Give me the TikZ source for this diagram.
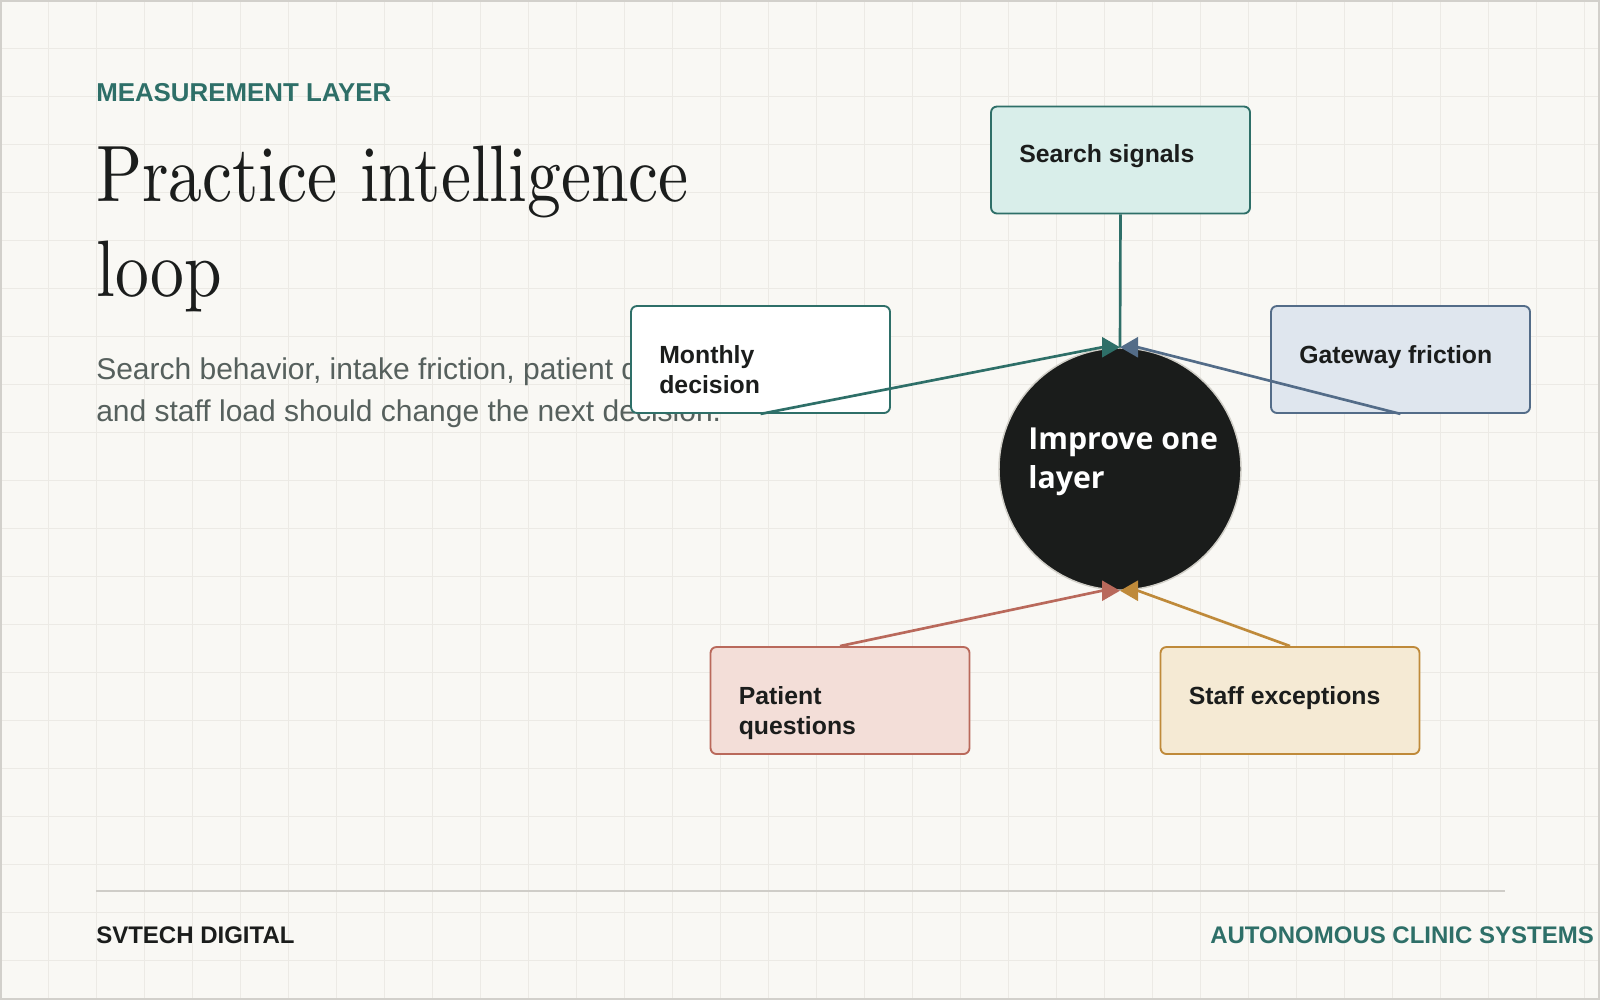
\documentclass[tikz,border=0pt]{standalone}
\usepackage{fontspec}
\setmainfont{Liberation Sans}
\newfontfamily\titlefont{lmroman10-regular.otf}[FakeStretch=0.845]
\newfontfamily\corefont{Open Sans}
\usetikzlibrary{arrows.meta,positioning,calc}

\definecolor{paper}{HTML}{F9F8F4}
\definecolor{gridcol}{HTML}{ECEAE5}
\definecolor{frame}{HTML}{D2D0CB}
\definecolor{ink}{HTML}{1B1D1C}
\definecolor{muted}{HTML}{56605D}
\definecolor{teal}{HTML}{2E6F68}
\definecolor{tealfill}{HTML}{D9EEEA}
\definecolor{slate}{HTML}{536C88}
\definecolor{slatefill}{HTML}{DFE6EE}
\definecolor{rust}{HTML}{B9695B}
\definecolor{rustfill}{HTML}{F3DED8}
\definecolor{ochre}{HTML}{BF8A3A}
\definecolor{ochrefill}{HTML}{F5EAD4}
\definecolor{rulecol}{HTML}{CFCDC8}
\definecolor{corefill}{HTML}{1A1C1B}
\definecolor{coreline}{HTML}{D0CEC7}

\begin{document}
\begin{tikzpicture}[
x=0.75pt,
y=-0.75pt,
gridline/.style={
  draw=gridcol,
  line width=0.75pt
  },
plaintext/.style={
  anchor=base west,
  inner sep=0pt,
  align=left
  },
box/.style={
  draw,
  rounded corners=4.5pt,
  line width=1.4pt,
  minimum width=194.25pt,
  minimum height=80.25pt,
  inner sep=0pt
  },
boxtext/.style={
  plaintext,
  text=ink,
  font=\fontsize{18.6}{22.5}\selectfont\bfseries
  },
link/.style={
  line width=2pt,
  -{Triangle[length=13.5pt,width=15pt]}
  }
]
\useasboundingbox (0,0) rectangle (1600,1000);
\fill[paper] (0,0) rectangle (1600,1000);
\foreach \gx in {48,96,...,1584}
  \draw[gridline] (\gx,0) -- (\gx,1000);
\foreach \gy in {48,96,...,960}
  \draw[gridline] (0,\gy) -- (1600,\gy);
\draw[frame, line width=1.5pt] (1,1) rectangle (1599,999);

% heading and lede (multi-line nodes sit on their last baseline)
\node[plaintext, text=teal, font=\fontsize{19.4}{23}\selectfont\bfseries]
  (kicker) at (96,101) {MEASUREMENT LAYER};
\node[plaintext, text=ink, font=\titlefont\fontsize{60}{71.25}\selectfont]
  (title) at (96,296) {Practice intelligence\\loop};
\node[plaintext, text=muted, font=\fontsize{22.5}{31.5}\selectfont]
  (lede) at (96,421) {Search behavior, intake friction, patient questions,\\and staff load should change the next decision.};

% signal boxes
\node[box, draw=teal, fill=tealfill] (search) at (1120.5,160) {};
\node[box, draw=teal, fill=white] (monthly) at (760.5,359.5) {};
\node[box, draw=slate, fill=slatefill] (gateway) at (1400.5,359.5) {};
\node[box, draw=rust, fill=rustfill] (patient) at (840,700.5) {};
\node[box, draw=ochre, fill=ochrefill] (staff) at (1290,700.5) {};

\node[boxtext] (search-t) at ([shift={(29,57)}]search.north west) {Search signals};
\node[boxtext] (monthly-t) at ([shift={(29,88)}]monthly.north west) {Monthly\\decision};
\node[boxtext] (gateway-t) at ([shift={(29,58)}]gateway.north west) {Gateway friction};
\node[boxtext] (patient-t) at ([shift={(29,88)}]patient.north west) {Patient\\questions};
\node[boxtext] (staff-t) at ([shift={(29,58)}]staff.north west) {Staff exceptions};

% core
\node[circle, fill=corefill, draw=coreline, line width=1.1pt, minimum size=181.5pt, inner sep=0pt]
  (core) at (1120,469) {};
\node[plaintext, text=white, font=\corefont\fontsize{22.7}{29.25}\selectfont\bfseries]
  (core-t) at (1028,488) {Improve one\\layer};

\draw[teal, line width=2pt] (search.south) -- (core.north);
\draw[link, teal] (monthly.south) -- ([shift={(-18,0)}]core.north) -- (core.north);
\draw[link, slate] (gateway.south) -- ([shift={(18,0)}]core.north) -- (core.north);
\draw[link, rust] (patient.north) -- ([shift={(-18,0)}]core.south) -- (core.south);
\draw[link, ochre] (staff.north) -- ([shift={(18,0)}]core.south) -- (core.south);

% footer
\draw[rulecol, line width=1.5pt] (96,891) -- (1505,891);
\node[plaintext, text=ink, font=\fontsize{18}{22}\selectfont\bfseries]
  (brand) at (96,943) {SVTECH DIGITAL};
\node[plaintext, text=teal, font=\fontsize{18}{22}\selectfont\bfseries]
  (tagline) at (1210,943) {AUTONOMOUS CLINIC SYSTEMS};

\end{tikzpicture}
\end{document}
